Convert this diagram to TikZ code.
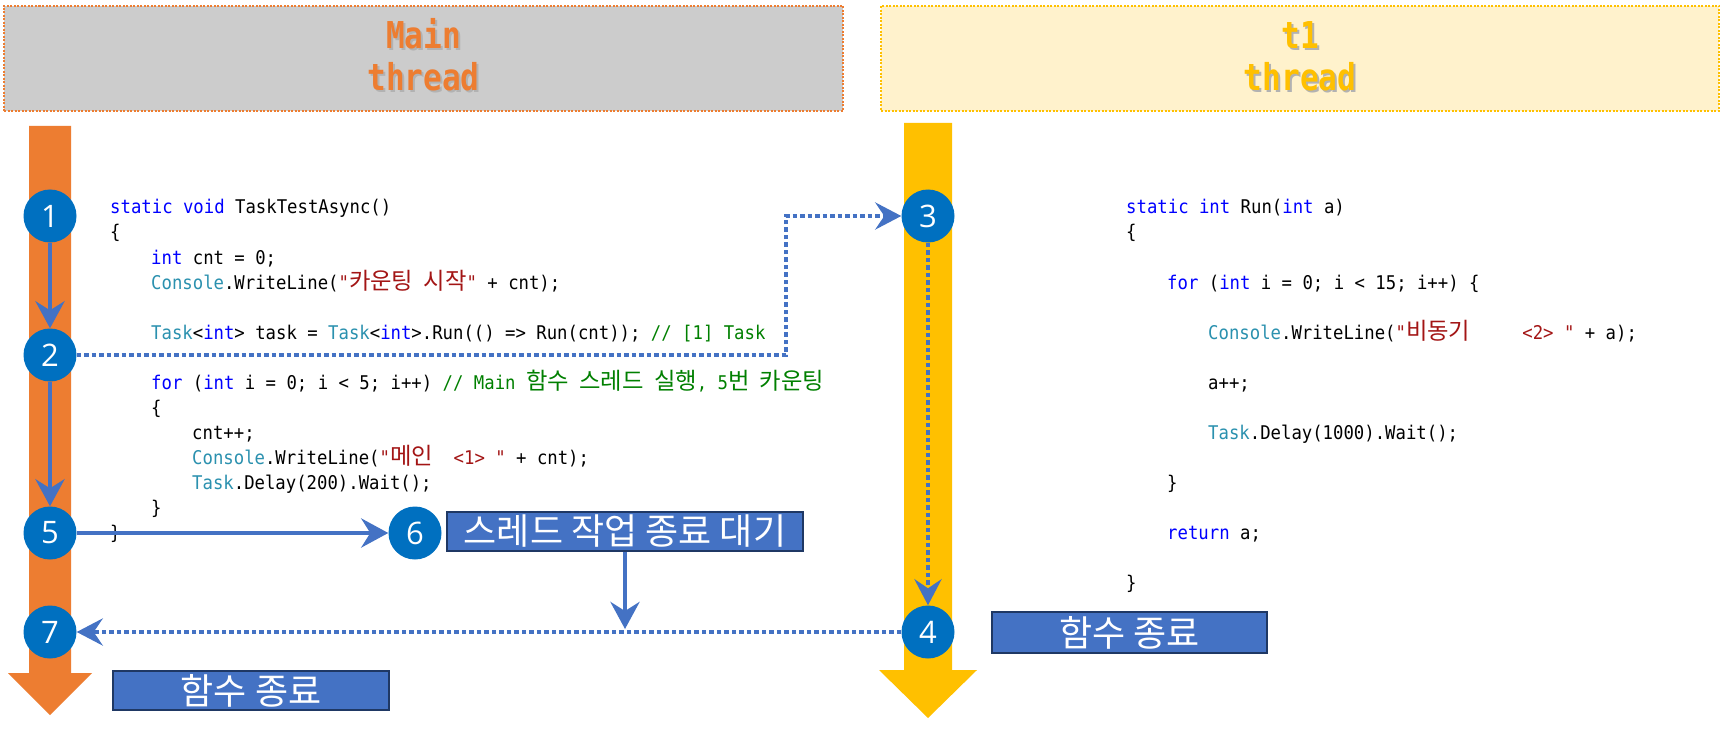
\documentclass[tikz,border=0pt]{standalone}
\usepackage{fontspec}
\usepackage{graphicx}
\usetikzlibrary{arrows.meta}
\setmonofont{DejaVu Sans Mono}[FakeStretch=0.915]
\newfontfamily\krfont{Noto Sans CJK KR}
\newfontfamily\numfont{Open Sans}
\newfontfamily\titlefont{DejaVu Sans Mono}
\definecolor{orangeA}{HTML}{ED7D31}
\definecolor{goldA}{HTML}{FFC000}
\definecolor{hdrgray}{HTML}{CCCCCC}
\definecolor{hdryellow}{HTML}{FFF2CC}
\definecolor{circblue}{HTML}{0070C0}
\definecolor{arrblue}{HTML}{4472C4}
\definecolor{navyA}{HTML}{1F3864}
\definecolor{kwblue}{HTML}{0000FF}
\definecolor{tyteal}{HTML}{2B91AF}
\definecolor{strred}{HTML}{A31515}
\definecolor{cmtgreen}{HTML}{008000}
\newcommand\kw[1]{\textcolor{kwblue}{#1}}
\newcommand\ty[1]{\textcolor{tyteal}{#1}}
\newcommand\st[1]{\textcolor{strred}{#1}}
\newcommand\cm[1]{\textcolor{cmtgreen}{#1}}
\newcommand\kr[1]{{\fontsize{23.3pt}{25pt}\krfont #1}}
\begin{document}
\begin{tikzpicture}[x=1pt,y=-1pt,
  hdr/.style={line width=2.5pt, dash pattern=on 2pt off 1.5pt, inner sep=0pt},
  ttl/.style={anchor=base, inner sep=0pt, font=\fontsize{37pt}{40pt}\titlefont\bfseries},
  num/.style={circle, fill=circblue, minimum size=53pt, inner sep=0pt, text=white, font=\fontsize{31pt}{31pt}\numfont},
  lbl/.style={draw=navyA, line width=2pt, fill=arrblue, text=white, inner sep=0pt, font=\fontsize{36pt}{38pt}\krfont},
  codeline/.style={anchor=base west, inner sep=0pt, font=\fontsize{18.9pt}{25pt}\ttfamily\frenchspacing},
  solidarrow/.style={draw=arrblue, line width=4.5pt, -{Stealth[length=27pt,width=29pt,inset=9pt]}},
  dotarrow/.style={draw=arrblue, line width=4.5pt, dash pattern=on 4.5pt off 3pt, -{Stealth[length=26pt,width=27pt,inset=9pt]}}
]
\useasboundingbox (0,0) rectangle (1721,730);
\fill[white] (0,0) rectangle (1721,730);

% headers
\node[hdr, fill=hdrgray, draw=orangeA, minimum width=839pt, minimum height=105pt] (hL) at (423.5,58.5) {};
\node[hdr, fill=hdryellow, draw=goldA, minimum width=838pt, minimum height=105pt] (hR) at (1300,58.5) {};
\node[ttl, text=black!30] (tLa) at (425.5,51) {\scalebox{0.84}[1]{Main}};
\node[ttl, text=orangeA] (tLb) at (423.5,49) {\scalebox{0.84}[1]{Main}};
\node[ttl, text=black!30] (tLc) at (425.5,93) {\scalebox{0.84}[1]{thread}};
\node[ttl, text=orangeA] (tLd) at (423.5,91) {\scalebox{0.84}[1]{thread}};
\node[ttl, text=black!30] (tRa) at (1302,51) {\scalebox{0.84}[1]{t1}};
\node[ttl, text=goldA] (tRb) at (1300,49) {\scalebox{0.84}[1]{t1}};
\node[ttl, text=black!30] (tRc) at (1302,93) {\scalebox{0.84}[1]{thread}};
\node[ttl, text=goldA] (tRd) at (1300,91) {\scalebox{0.84}[1]{thread}};

% thread bars
\fill[orangeA] (29,126) -- (71,126) -- (71,673) -- (92,673) -- (50,715) -- (8,673) -- (29,673) -- cycle;
\fill[goldA] (904,123) -- (952,123) -- (952,670) -- (977,670) -- (928,718) -- (879,670) -- (904,670) -- cycle;

% code, main thread
\node[codeline] (L0) at (110,214) {\kw{static void} TaskTestAsync()};
\node[codeline] (L1) at (110,239) {\{};
\node[codeline] (L2) at (151,264) {\kw{int} cnt = 0;};
\node[codeline] (L3) at (151,289) {\ty{Console}.WriteLine(\st{"\kr{카운팅} \kr{시작}"} + cnt);};
\node[codeline] (L5) at (151,339) {\ty{Task}<\kw{int}> task = \ty{Task}<\kw{int}>.Run(() => Run(cnt)); \cm{// [1] Task}};
\node[codeline] (L7) at (151,389) {\kw{for} (\kw{int} i = 0; i < 5; i++) \cm{// Main \kr{함수} \kr{스레드} \kr{실행}, 5\kr{번} \kr{카운팅}}};
\node[codeline] (L8) at (151,414) {\{};
\node[codeline] (L9) at (192,439) {cnt++;};
\node[codeline] (L10) at (192,464) {\ty{Console}.WriteLine(\st{"\kr{메인}\ \ <1> "} + cnt);};
\node[codeline] (L11) at (192,489) {\ty{Task}.Delay(200).Wait();};
\node[codeline] (L12) at (151,514) {\}};
\node[codeline] (L13) at (110,539) {\}};

% code, t1 thread
\node[codeline] (R0) at (1126,214) {\kw{static int} Run(\kw{int} a)};
\node[codeline] (R1) at (1126,239) {\{};
\node[codeline] (R2) at (1167,289) {\kw{for} (\kw{int} i = 0; i < 15; i++) \{};
\node[codeline] (R3) at (1208,339) {\ty{Console}.WriteLine(\st{"\kr{비동기}\ \ \ \ \ <2> "} + a);};
\node[codeline] (R4) at (1208,389) {a++;};
\node[codeline] (R5) at (1208,439) {\ty{Task}.Delay(1000).Wait();};
\node[codeline] (R6) at (1167,489) {\}};
\node[codeline] (R7) at (1167,539) {\kw{return} a;};
\node[codeline] (R8) at (1126,589) {\}};

% step circles
\node[num] (c1) at (50,216) {1};
\node[num] (c2) at (50,355) {2};
\node[num] (c5) at (50,533) {5};
\node[num] (c7) at (50,632) {7};
\node[num] (c6) at (415,533) {6};
\node[num] (c3) at (928,216) {3};
\node[num] (c4) at (928,632) {4};

% label boxes
\node[lbl, minimum width=356pt, minimum height=39pt] (b6) at (625,531.5) {스레드 작업 종료 대기};
\node[lbl, minimum width=276pt, minimum height=39pt] (bL) at (251,690.5) {함수 종료};
\node[lbl, minimum width=275pt, minimum height=41pt] (bR) at (1129.5,632.5) {함수 종료};

% connectors
\coordinate (k) at (786,216);
\coordinate (j) at (625,629);
\draw[solidarrow] (c1) -- (c2);
\draw[solidarrow] (c2) -- (c5);
\draw[solidarrow] (c5) -- (c6);
\draw[solidarrow] (b6.south) -- (j);
\draw[dotarrow] (c2.east) -| (k) -- (c3.west);
\draw[dotarrow] (c3) -- (c4);
\draw[dotarrow] (c4) -- (c7);
\end{tikzpicture}
\end{document}
